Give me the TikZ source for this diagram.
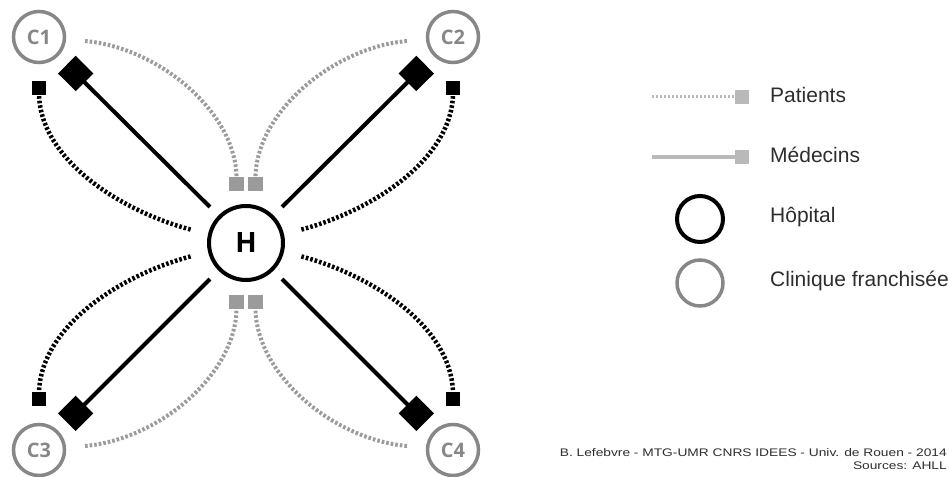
\documentclass[tikz,border=0pt]{standalone}
\usepackage{fontspec}
\setmainfont{Liberation Sans}
\newfontfamily\clinfont{Open Sans}
\usetikzlibrary{arrows.meta}

\definecolor{clingray}{RGB}{135,135,135}
\definecolor{patgray}{RGB}{155,155,155}
\definecolor{leggray}{RGB}{185,185,185}
\definecolor{txtgray}{RGB}{45,45,45}

\begin{document}
\begin{tikzpicture}[x=1pt,y=1pt,
		hop/.style={circle,draw=black,line width=4pt,minimum size=74pt,inner sep=0pt,
			font=\clinfont\bfseries\fontsize{28}{28}\selectfont},
		clin/.style={circle,draw=clingray,line width=3.5pt,minimum size=51pt,inner sep=0pt,
			text=clingray,font=\clinfont\bfseries\fontsize{20}{20}\selectfont},
		med/.style={line width=4pt,-{Square[length=25pt,width=25pt]},shorten <=12pt,shorten >=12pt},
		back/.style={line width=4.5pt,dash pattern=on 2.6pt off 2pt,
			-{Square[length=13.5pt,width=13.5pt]},shorten <=18pt,shorten >=17pt},
		pat/.style={line width=4pt,draw=patgray,dash pattern=on 2.6pt off 2pt,
			-{Square[length=14.5pt,width=14.5pt]},shorten <=19pt,shorten >=14pt},
		legtxt/.style={anchor=west,inner sep=0pt,text=txtgray,font=\fontsize{21}{21}\selectfont}]
	\useasboundingbox (0,0) rectangle (949,476);

	% hopital et cliniques
	\node[hop] (H) at (246,233) {H};
	\foreach \n/\x/\y in {1/39/439,2/453/439,3/39/26,4/453/26}
		\node[clin] (C\n) at (\x,\y) {C\n};

	% medecins
	\foreach \c/\a in {C1/135,C2/45,C3/225,C4/-45}
		\draw[med] (H.\a) -- (\c);

	% retours
	\draw[back] (H.167) to[out=165,in=-90] (C1);
	\draw[back] (H.13) to[out=15,in=-90] (C2);
	\draw[back] (H.193) to[out=195,in=90] (C3);
	\draw[back] (H.-13) to[out=-15,in=90] (C4);

	% patients
	\draw[pat] (C1) to[out=-5,in=90] (H.104);
	\draw[pat] (C2) to[out=185,in=90] (H.76);
	\draw[pat] (C3) to[out=5,in=-90] (H.256);
	\draw[pat] (C4) to[out=175,in=-90] (H.284);

	% legende
	\coordinate (patA) at (652,379);
	\coordinate (patB) at (749,379);
	\draw[line width=3pt,draw=leggray,dash pattern=on 2pt off 2pt,
		-{Square[length=14.5pt,width=14.5pt]}] (patA) -- (patB);
	\node[legtxt] (patT) at (770,381) {Patients};
	\coordinate (medA) at (652,319);
	\coordinate (medB) at (749,319);
	\draw[line width=4pt,draw=leggray,-{Square[length=14.5pt,width=14.5pt]}] (medA) -- (medB);
	\node[legtxt] (medT) at (770,321) {Médecins};
	\node[hop,minimum size=46pt] (legH) at (700,257) {};
	\node[legtxt] (legHT) at (770,259) {Hôpital};
	\node[clin,minimum size=46pt] (legC) at (700,193) {};
	\node[legtxt] (legCT) at (770,195) {Clinique franchisée};

	% source
	\node[anchor=east,align=right,inner sep=0pt,xscale=1.25,text=txtgray,
		font=\fontsize{11}{13.5}\selectfont] (src) at (947,17)
		{B. Lefebvre - MTG-UMR CNRS IDEES - Univ. de Rouen - 2014\\Sources: AHLL};
\end{tikzpicture}
\end{document}
